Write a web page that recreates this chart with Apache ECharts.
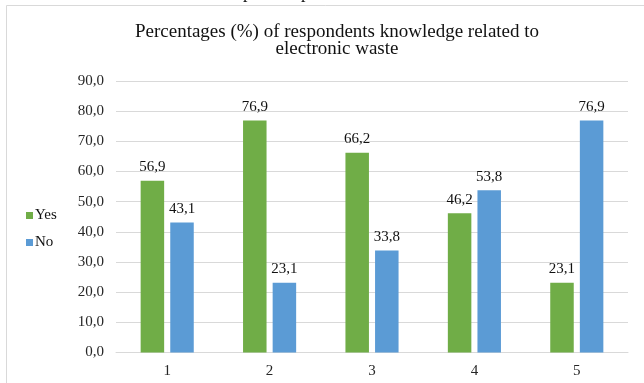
<!DOCTYPE html>
<html>
<head>
<meta charset="utf-8">
<script src="https://cdn.jsdelivr.net/npm/echarts@6/dist/echarts.min.js"></script>
<style>
  html, body { margin: 0; padding: 0; background: #fff; }
  #chart { width: 644px; height: 383px; }
</style>
</head>
<body>
<div id="chart"></div>
<script>
// Survey categories (question numbers) and answer shares in percent
const categories = ['1', '2', '3', '4', '5'];
const yesValues = [56.9, 76.9, 66.2, 46.2, 23.1];
const noValues = [43.1, 23.1, 33.8, 53.8, 76.9];
const seriesNames = ['Yes', 'No'];
const titleLines = ['Percentages (%) of respondents knowledge related to', 'electronic waste'];

const FONT = '"Liberation Serif", "DejaVu Serif", serif';
const TEXT_COLOR = '#111111';
const comma = v => Number(v).toFixed(1).replace('.', ',');

const chart = echarts.init(document.getElementById('chart'), null, { renderer: 'canvas' });

const barLabel = {
  show: true, position: 'top', distance: 6,
  fontFamily: FONT, fontSize: 15, color: TEXT_COLOR,
  formatter: p => comma(p.value)
};

chart.setOption({
  animation: false,
  backgroundColor: '#ffffff',
  title: {
    text: titleLines.join('\n'),
    left: 332,
    top: 19,
    textAlign: 'center',
    textStyle: {
      fontFamily: FONT,
      fontSize: 19,
      fontWeight: 'normal',
      color: TEXT_COLOR,
      lineHeight: 17
    }
  },
  legend: {
    orient: 'vertical',
    left: 21,
    top: 203,
    itemWidth: 7,
    itemHeight: 7,
    itemGap: 12,
    icon: 'rect',
    data: seriesNames,
    textStyle: { fontFamily: FONT, fontSize: 15, color: TEXT_COLOR, padding: [0, 0, 0, -3] }
  },
  grid: { left: 116, right: 16, top: 81, bottom: 30.5, containLabel: false },
  xAxis: {
    type: 'category',
    data: categories,
    axisLine: { show: true, lineStyle: { color: '#d9d9d9', width: 1 } },
    axisTick: { show: false },
    axisLabel: { fontFamily: FONT, fontSize: 15, color: '#262626', margin: 11 }
  },
  yAxis: {
    type: 'value',
    min: 0,
    max: 90,
    interval: 10,
    axisLine: { show: false },
    axisTick: { show: false },
    splitLine: { lineStyle: { color: '#d9d9d9', width: 1 } },
    axisLabel: {
      fontFamily: FONT, fontSize: 15, color: '#262626', margin: 12,
      formatter: v => comma(v)
    }
  },
  series: [
    {
      name: seriesNames[0],
      type: 'bar',
      data: yesValues,
      barWidth: 23.5,
      barGap: '26%',
      itemStyle: { color: '#70ad47' },
      label: barLabel
    },
    {
      name: seriesNames[1],
      type: 'bar',
      data: noValues,
      barWidth: 23.5,
      itemStyle: { color: '#5b9bd5' },
      label: barLabel
    }
  ],
  graphic: [
    {
      type: 'rect',
      shape: { x: 6.5, y: 5.5, width: 700, height: 400 },
      style: { fill: 'none', stroke: '#d9d9d9', lineWidth: 1 },
      silent: true
    },
    {
      type: 'text', x: 243, y: -16,
      style: { text: 'p', font: '18px ' + FONT, fill: TEXT_COLOR, verticalAlign: 'top' }
    },
    {
      type: 'text', x: 301, y: -16,
      style: { text: 'p', font: '18px ' + FONT, fill: TEXT_COLOR, verticalAlign: 'top' }
    }
  ]
});
</script>
</body>
</html>
